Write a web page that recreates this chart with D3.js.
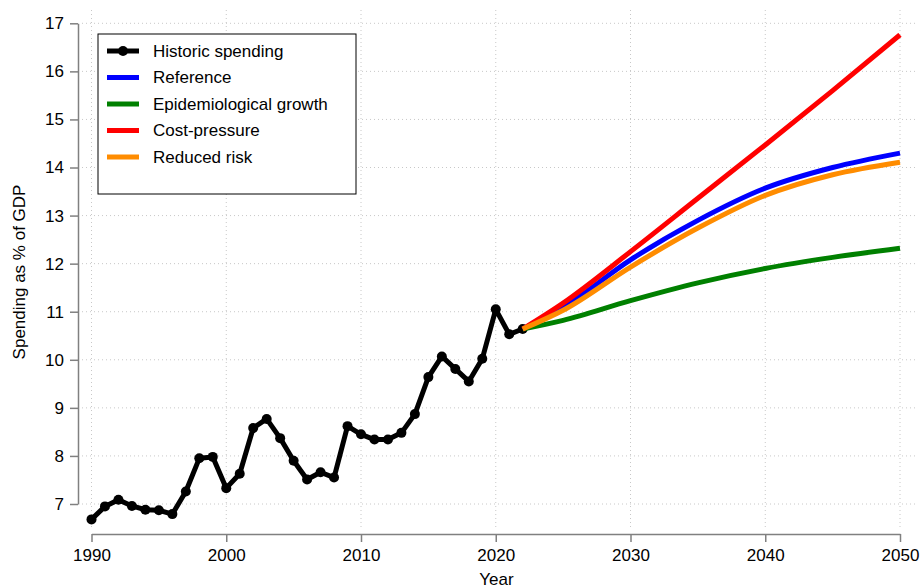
<!DOCTYPE html>
<html>
<head>
<meta charset="utf-8">
<script src="https://cdn.jsdelivr.net/npm/d3@7"></script>
<style>
  body { margin: 0; background: #fff; }
  svg { font-family: "Liberation Sans", Arial, sans-serif; }
</style>
</head>
<body>
<div id="chart"></div>
<script>
// historic spending, one value per year 1990-2022
const historicYears = d3.range(1990, 2023);
const historicValues = [
  6.68, 6.95, 7.09, 6.96, 6.88, 6.87, 6.79, 7.26, 7.95, 7.98,
  7.33, 7.63, 8.58, 8.77, 8.37, 7.90, 7.51, 7.66, 7.55, 8.62,
  8.45, 8.34, 8.34, 8.48, 8.87, 9.64, 10.07, 9.81, 9.55, 10.02,
  11.05, 10.53, 10.64
];

// projections, read at a few years and drawn as smooth curves
const projYears = [2022, 2025, 2030, 2035, 2040, 2045, 2050];
const referenceValues = [10.64, 11.09, 12.08, 12.90, 13.57, 14.00, 14.30];
const epiValues = [10.64, 10.82, 11.23, 11.60, 11.90, 12.13, 12.32];
const costValues = [10.64, 11.18, 12.25, 13.36, 14.47, 15.60, 16.76];
const reducedValues = [10.64, 11.03, 11.93, 12.74, 13.42, 13.85, 14.11];

const xTicks = [1990, 2000, 2010, 2020, 2030, 2040, 2050];
const yTicks = d3.range(7, 18);

const series = [
  { name: "Reference", values: referenceValues, color: "#0000ff" },
  { name: "Epidemiological growth", values: epiValues, color: "#008000" },
  { name: "Cost-pressure", values: costValues, color: "#ff0000" },
  { name: "Reduced risk", values: reducedValues, color: "#ff8c00" }
];

const width = 922, height = 588;
// plot region (grid extent) and axis placement
const plot = { left: 82, right: 915, top: 10, bottom: 530 };

const x = d3.scaleLinear().domain([1990, 2050]).range([91.5, 900]);
const y = d3.scaleLinear().domain([7, 17]).range([504, 23.3]);

const svg = d3.select("#chart")
  .append("svg")
  .attr("width", width)
  .attr("height", height);

// dotted grid
const grid = svg.append("g")
  .attr("stroke", "#c8c8c8")
  .attr("stroke-width", 1)
  .attr("stroke-dasharray", "1,3");

grid.selectAll("line.v")
  .data(xTicks)
  .enter()
  .append("line")
  .attr("class", "v")
  .attr("x1", d => x(d)).attr("x2", d => x(d))
  .attr("y1", plot.top).attr("y2", plot.bottom);

grid.selectAll("line.h")
  .data(yTicks)
  .enter()
  .append("line")
  .attr("class", "h")
  .attr("x1", plot.left).attr("x2", plot.right)
  .attr("y1", d => y(d)).attr("y2", d => y(d));

// axes, detached from the plot region
const xAxis = svg.append("g")
  .attr("transform", `translate(0,${plot.bottom + 4})`)
  .call(d3.axisBottom(x).tickValues(xTicks).tickFormat(d3.format("d")).tickSizeInner(8).tickSizeOuter(0).tickPadding(7));

const yAxis = svg.append("g")
  .attr("transform", `translate(${plot.left - 4},0)`)
  .call(d3.axisLeft(y).tickValues(yTicks).tickSizeInner(8).tickSizeOuter(0).tickPadding(6));

[xAxis, yAxis].forEach(ax => {
  ax.select(".domain").attr("stroke", "#808080").attr("stroke-width", 1.5);
  ax.selectAll(".tick line").attr("stroke", "#808080").attr("stroke-width", 1.5);
  ax.selectAll(".tick text").attr("fill", "#000").style("font-size", "17px");
});

svg.append("text")
  .attr("x", (plot.left + plot.right) / 2 - 2)
  .attr("y", 585)
  .attr("text-anchor", "middle")
  .style("font-size", "17px")
  .text("Year");

svg.append("text")
  .attr("transform", `translate(25,${(plot.top + plot.bottom) / 2 + 2}) rotate(-90)`)
  .attr("text-anchor", "middle")
  .style("font-size", "17px")
  .text("Spending as % of GDP");

// historic line with markers
const histData = historicYears.map((yr, i) => ({ year: yr, value: historicValues[i] }));

svg.append("path")
  .datum(histData)
  .attr("fill", "none")
  .attr("stroke", "#000")
  .attr("stroke-width", 5)
  .attr("stroke-linejoin", "round")
  .attr("d", d3.line().x(d => x(d.year)).y(d => y(d.value)));

svg.selectAll("circle.hist")
  .data(histData)
  .enter()
  .append("circle")
  .attr("class", "hist")
  .attr("cx", d => x(d.year))
  .attr("cy", d => y(d.value))
  .attr("r", 5)
  .attr("fill", "#000");

// projection curves
const projLine = d3.line()
  .x((d, i) => x(projYears[i]))
  .y(d => y(d))
  .curve(d3.curveMonotoneX);

svg.selectAll("path.proj")
  .data(series)
  .enter()
  .append("path")
  .attr("class", "proj")
  .attr("fill", "none")
  .attr("stroke", d => d.color)
  .attr("stroke-width", 5)
  .attr("d", d => projLine(d.values));

// legend
const legend = svg.append("g").attr("transform", "translate(98,34)");

legend.append("rect")
  .attr("width", 258)
  .attr("height", 160)
  .attr("fill", "#fff")
  .attr("stroke", "#000")
  .attr("stroke-width", 1);

const legendItems = [{ name: "Historic spending", color: "#000", marker: true }].concat(series);

const rows = legend.selectAll("g.row")
  .data(legendItems)
  .enter()
  .append("g")
  .attr("class", "row")
  .attr("transform", (d, i) => `translate(0,${17 + i * 26.5})`);

rows.append("line")
  .attr("x1", 9).attr("x2", 41)
  .attr("stroke", d => d.color)
  .attr("stroke-width", 5);

rows.filter(d => d.marker)
  .append("circle")
  .attr("cx", 25)
  .attr("r", 5)
  .attr("fill", "#000");

rows.append("text")
  .attr("x", 55)
  .attr("dy", "0.35em")
  .style("font-size", "17px")
  .text(d => d.name);
</script>
</body>
</html>
